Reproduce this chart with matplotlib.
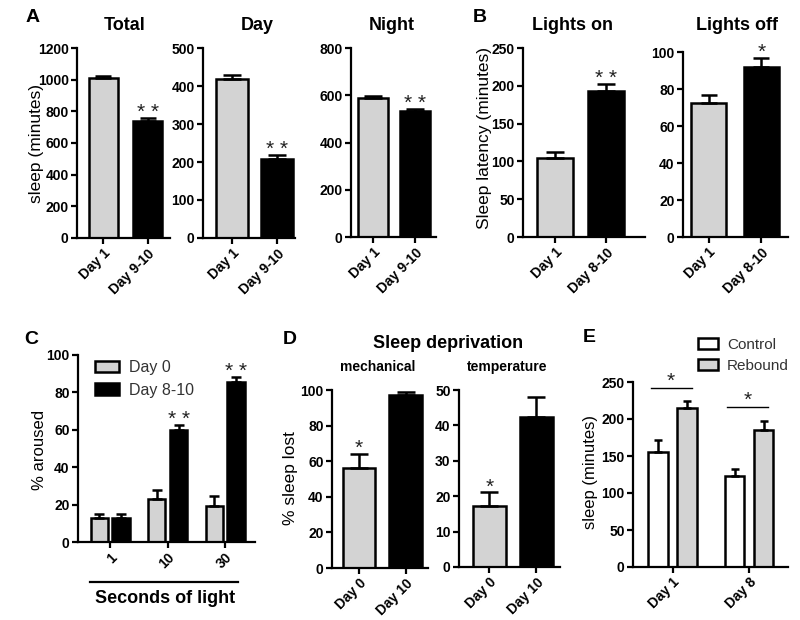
import numpy as np
import matplotlib
matplotlib.use('Agg')
import matplotlib.pyplot as plt
from matplotlib.patches import Patch

plt.rcParams['font.family'] = ['Liberation Sans', 'DejaVu Sans']

# ---- data ----
a_labels = ['Day 1', 'Day 9-10']
total_mean = [1010, 741]
total_err = [12, 20]
day_mean = [418, 209]
day_err = [11, 9]
night_mean = [590, 532]
night_err = [7, 9]

b_labels = ['Day 1', 'Day 8-10']
on_mean = [104.5, 193.5]
on_err = [7.5, 8.5]
off_mean = [72.4, 91.9]
off_err = [4.4, 4.9]

c_seconds = ['1', '10', '30']
c_day0 = [13.1, 23, 19]
c_day0_err = [2, 5, 5.7]
c_day810 = [13.1, 60, 85.4]
c_day810_err = [2, 2.7, 2.7]

d_labels = ['Day 0', 'Day 10']
mech_mean = [56, 97.2]
mech_err = [8, 1.8]
temp_mean = [17.1, 42.5]
temp_err = [4, 5.4]

e_days = ['Day 1', 'Day 8']
e_control = [155.8, 123.4]
e_control_err = [16, 9]
e_rebound = [214.4, 185]
e_rebound_err = [10, 12.7]

W, H = 800, 620
GRAY = '#d3d3d3'
fig = plt.figure(figsize=(W / 100, H / 100), dpi=100)


def add_ax(l, t, r, b):
    return fig.add_axes([l / W, 1 - b / H, (r - l) / W, (b - t) / H])


def style(ax, ymax, ystep, xlim):
    for s in ['top', 'right']:
        ax.spines[s].set_visible(False)
    for s in ['left', 'bottom']:
        ax.spines[s].set_linewidth(1.6)
    ax.set_ylim(0, ymax)
    ax.set_yticks(np.arange(0, ymax + ystep / 2, ystep))
    ax.set_xlim(*xlim)
    ax.tick_params(direction='out', length=4, width=1.6, labelsize=10, pad=2)
    for lab in ax.get_yticklabels():
        lab.set_fontweight('bold')


def xlabels(ax, pos, labels):
    ax.set_xticks(pos)
    ax.set_xticklabels(labels, rotation=45, ha='right', rotation_mode='anchor',
                       fontweight='bold', fontsize=10)


def bars(ax, x, means, errs, color, width, cap):
    ax.bar(x, means, width=width, color=color, edgecolor='black', linewidth=1.8, zorder=2)
    ax.errorbar(x, means, yerr=[np.zeros(len(means)), errs], fmt='none', ecolor='black',
                elinewidth=1.8, capsize=cap, capthick=1.8, zorder=3)


def star(ax, x, y, s, size=15, dy=-3):
    ax.annotate(s, xy=(x, y), xytext=(0, dy), textcoords='offset points',
                ha='center', va='bottom', fontsize=size, color='#222222')


def two_bar(rect, means, errs, labels, ymax, ystep, xlim, width, stars):
    ax = add_ax(*rect)
    x = np.arange(2)
    ax.bar(x, means, width=width, color=[GRAY, 'black'], edgecolor='black',
           linewidth=1.8, zorder=2)
    ax.errorbar(x, means, yerr=[np.zeros(2), errs], fmt='none', ecolor='black',
                elinewidth=1.8, capsize=width * 9, capthick=1.8, zorder=3)
    style(ax, ymax, ystep, xlim)
    xlabels(ax, x, labels)
    for i, s in enumerate(stars):
        if s:
            star(ax, x[i], means[i] + errs[i], s)
    return ax


# ---- A ----
two_bar((77, 48, 170, 238), total_mean, total_err, a_labels, 1200, 200,
        (-0.6, 1.51), 0.66, ['', '* *'])
two_bar((203, 48, 295, 238), day_mean, day_err, a_labels, 500, 100,
        (-0.64, 1.4), 0.72, ['', '* *'])
two_bar((351, 48, 436, 237), night_mean, night_err, a_labels, 800, 200,
        (-0.52, 1.5), 0.71, ['', '* *'])
fig.text(125 / W, 1 - 25 / H, 'Total', ha='center', va='center', fontsize=13, fontweight='bold')
fig.text(257 / W, 1 - 25 / H, 'Day', ha='center', va='center', fontsize=13, fontweight='bold')
fig.text(392 / W, 1 - 25 / H, 'Night', ha='center', va='center', fontsize=13, fontweight='bold')
fig.text(37 / W, 1 - 143 / H, 'sleep (minutes)', rotation=90, ha='center', va='center', fontsize=12.5)

# ---- B ----
two_bar((523, 48, 645, 237), on_mean, on_err, b_labels, 250, 50,
        (-0.62, 1.75), 0.7, ['', '* *'])
two_bar((683, 52, 788, 237), off_mean, off_err, b_labels, 100, 20,
        (-0.49, 1.51), 0.67, ['', '*'])
fig.text(572 / W, 1 - 25 / H, 'Lights on', ha='center', va='center', fontsize=13, fontweight='bold')
fig.text(737 / W, 1 - 25 / H, 'Lights off', ha='center', va='center', fontsize=13, fontweight='bold')
fig.text(485 / W, 1 - 138 / H, 'Sleep latency (minutes)', rotation=90, ha='center', va='center', fontsize=12.5)

# ---- C ----
axc = add_ax(78, 355, 255, 542)
xc = np.arange(3)
bars(axc, xc - 0.19, c_day0, c_day0_err, GRAY, 0.3, 3.5)
bars(axc, xc + 0.19, c_day810, c_day810_err, 'black', 0.3, 3.5)
style(axc, 100, 20, (-0.56, 2.52))
xlabels(axc, xc, c_seconds)
for i in range(3):
    if i > 0:
        star(axc, xc[i] + 0.19, c_day810[i] + c_day810_err[i], '* *')
axc.plot([0.068, 0.904], [-0.214, -0.214], transform=axc.transAxes, color='black',
         lw=1.6, clip_on=False)
axc.text(0.49, -0.30, 'Seconds of light', transform=axc.transAxes, ha='center', va='center',
         fontsize=13, fontweight='bold')
leg = axc.legend(handles=[Patch(facecolor=GRAY, edgecolor='black', linewidth=1.8, label='Day 0'),
                          Patch(facecolor='black', edgecolor='black', linewidth=1.8, label='Day 8-10')],
                 loc='upper left', bbox_to_anchor=(0.06, 1.005), frameon=False, fontsize=11.5,
                 handlelength=1.5, handleheight=0.7, handletextpad=0.6, labelspacing=0.45,
                 borderaxespad=0)
for t in leg.get_texts():
    t.set_color('#333333')
fig.text(40 / W, 1 - 450 / H, '% aroused', rotation=90, ha='center', va='center', fontsize=12)

# ---- D ----
two_bar((332, 390, 428, 568), mech_mean, mech_err, d_labels, 100, 20,
        (-0.58, 1.48), 0.7, ['*', ''])
two_bar((459, 390, 560, 567), temp_mean, temp_err, d_labels, 50, 10,
        (-0.64, 1.5), 0.7, ['*', ''])
fig.text(448 / W, 1 - 343 / H, 'Sleep deprivation', ha='center', va='center', fontsize=13, fontweight='bold')
fig.text(378 / W, 1 - 367 / H, 'mechanical', ha='center', va='center', fontsize=10, fontweight='bold')
fig.text(507 / W, 1 - 367 / H, 'temperature', ha='center', va='center', fontsize=10, fontweight='bold')
fig.text(290 / W, 1 - 478 / H, '% sleep lost', rotation=90, ha='center', va='center', fontsize=12.5)

# ---- E ----
axe = add_ax(633, 382, 788, 567)
xe = np.arange(2)
bars(axe, xe - 0.19, e_control, e_control_err, 'white', 0.26, 3)
bars(axe, xe + 0.19, e_rebound, e_rebound_err, GRAY, 0.26, 3)
style(axe, 250, 50, (-0.52, 1.51))
xlabels(axe, xe, e_days)
for i in range(2):
    top = max(e_control[i] + e_control_err[i], e_rebound[i] + e_rebound_err[i]) + 18
    axe.plot([xe[i] - 0.29, xe[i] + 0.25], [top, top], color='black', lw=1, clip_on=False)
    star(axe, xe[i] - 0.02, top, '*', dy=-2)
leg = axe.legend(handles=[Patch(facecolor='white', edgecolor='black', linewidth=1.8, label='Control'),
                          Patch(facecolor=GRAY, edgecolor='black', linewidth=1.8, label='Rebound')],
                 loc='upper left', bbox_to_anchor=(0.38, 1.27), frameon=False, fontsize=11,
                 handlelength=1.3, handleheight=0.7, handletextpad=0.6, labelspacing=0.45,
                 borderaxespad=0)
for t in leg.get_texts():
    t.set_color('#333333')
fig.text(590 / W, 1 - 472 / H, 'sleep (minutes)', rotation=90, ha='center', va='center', fontsize=12)

# ---- panel letters ----
for letter, (px, py) in zip('ABCDE', [(33, 17), (480, 17), (31, 339), (290, 339), (589, 338)]):
    fig.text(px / W, 1 - py / H, letter, ha='center', va='center', fontsize=14, fontweight='bold')

fig.savefig('out.png', dpi=100)
